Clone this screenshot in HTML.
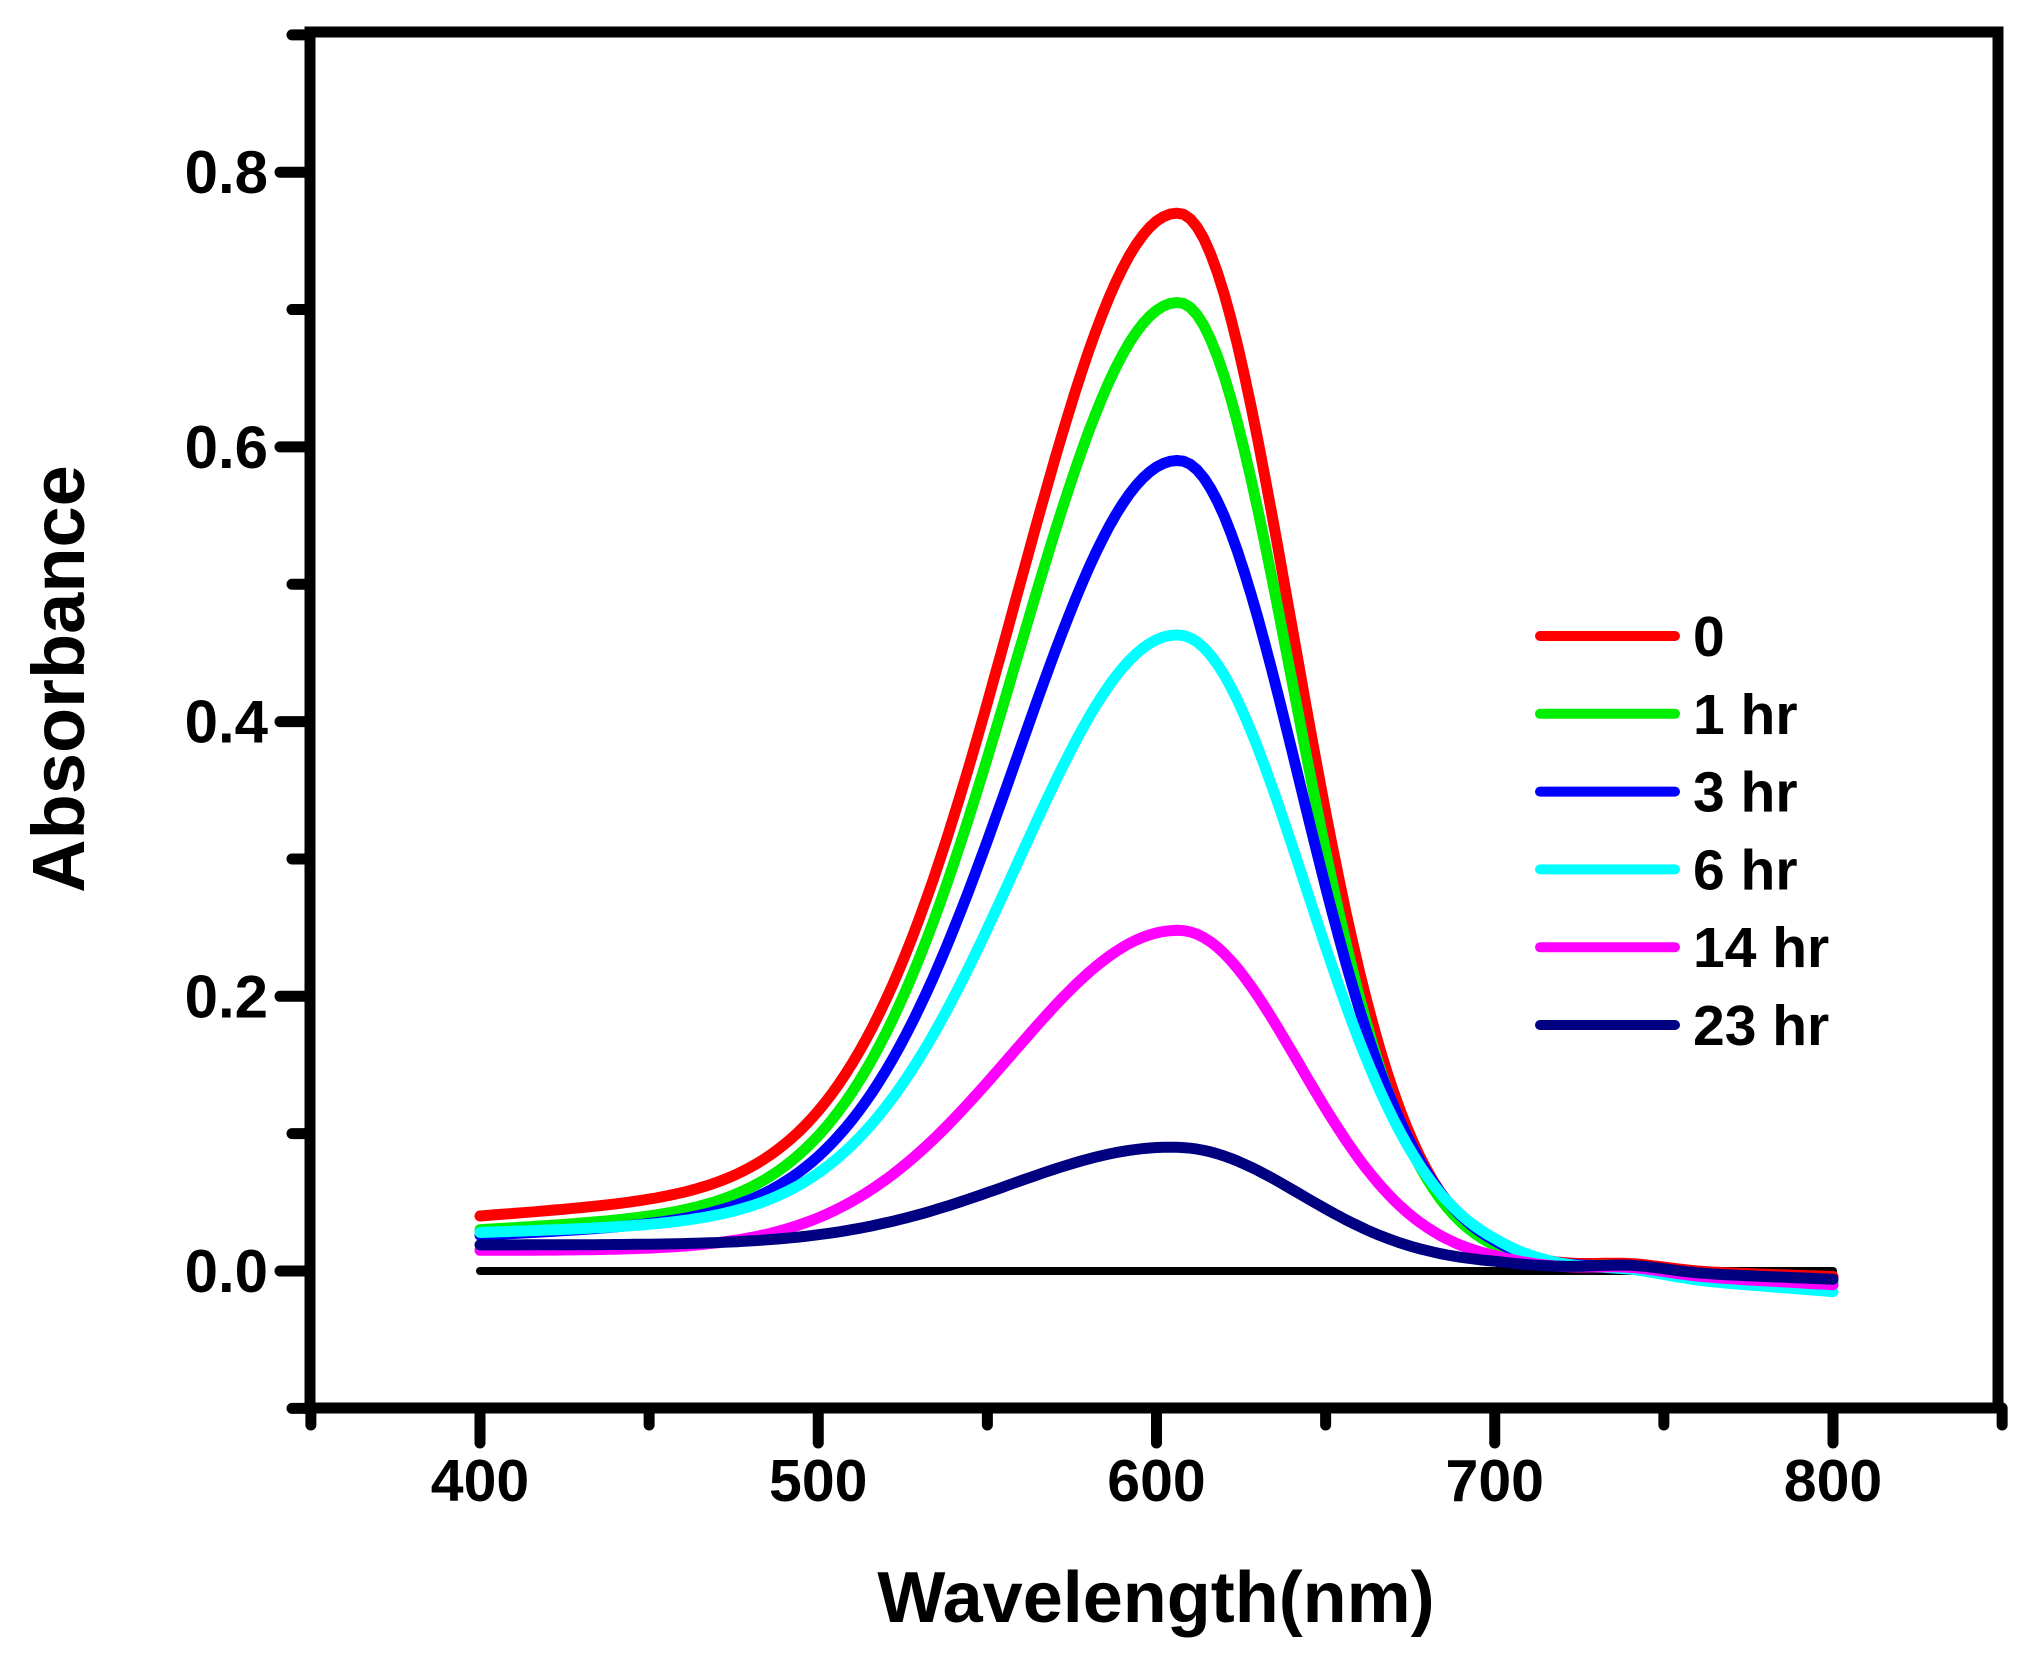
<!DOCTYPE html>
<html><head><meta charset="utf-8"><style>
html,body{margin:0;padding:0;background:#fff;}
svg{display:block;}
text{font-family:"Liberation Sans",Arial,sans-serif;font-weight:bold;fill:#000;}
</style></head><body>
<svg id="s" width="2034" height="1654" viewBox="0 0 2034 1654" xmlns="http://www.w3.org/2000/svg">
<g id="curves" fill="none" stroke-linejoin="round" stroke-linecap="round"></g>
<g stroke="#000" stroke-width="11" stroke-linecap="round" fill="none">
<path d="M310 32 H1998 V1408 H310 Z"/>
<g id="ticks"></g>
</g>
<g font-size="60" text-anchor="end" id="ylab"></g>
<g font-size="59" text-anchor="middle" id="xlab"></g>
<text x="1156" y="1622" font-size="72" text-anchor="middle">Wavelength(nm)</text>
<text transform="translate(84,679) rotate(-90)" font-size="74" text-anchor="middle">Absorbance</text>
<g id="legend" font-size="57"></g>
</svg>
<script>
const NS="http://www.w3.org/2000/svg";
const X=w=>480+(w-400)*3.3825, Y=a=>1271-a*1373.5;
function el(p,tag,at,txt){const e=document.createElementNS(NS,tag);for(const k in at)e.setAttribute(k,at[k]);if(txt!==undefined)e.textContent=txt;p.appendChild(e);return e;}
const tk=document.getElementById('ticks');
let d="";
for(let v=-0.1;v<=0.901;v+=0.1){const y=Y(v);const maj=Math.abs(Math.round(v*10)%2)==0;d+=`M310 ${y} H${maj?280:292}`;}
for(let w=350;w<=850;w+=50){const x=X(w);const maj=w%100==0;d+=`M${x} 1408 V${maj?1443:1425}`;}
el(tk,'path',{d});
const yl=document.getElementById('ylab');
[0,0.2,0.4,0.6,0.8].forEach(v=>el(yl,'text',{x:268,y:Y(v)+21},v.toFixed(1)));
const xl=document.getElementById('xlab');
[400,500,600,700,800].forEach(w=>el(xl,'text',{x:X(w),y:1501},w));
const series=[
 ['#ff0000',0.77,0.040,0.018,-0.004,48,33],
 ['#00ee00',0.705,0.030,0.014,-0.008,48,33],
 ['#0000ff',0.59,0.026,0.012,-0.010,48,35],
 ['#00ffff',0.463,0.028,0.008,-0.015,48,37],
 ['#ff00ff',0.248,0.015,0.000,-0.010,50,35],
 ['#000080',0.09,0.019,0.000,-0.006,50,36]];
const cg=document.getElementById('curves');
el(cg,'path',{d:`M${X(400)} ${Y(0)} H${X(800)}`,stroke:'#000','stroke-width':8});
series.forEach(([c,A,b0,k,b1,sl,sr])=>{
 const c0=607;
 const base=w=>{const S=1/(1+Math.exp((w-640)/18));
   let b=(b0+k*(w-400)/100)*S + (0.004+(b1-0.004)*Math.max(0,(w-700)/100))*(1-S);
   return b+0.004*Math.exp(-Math.pow((w-740)/15,2));};
 const amp=A-base(c0);
 let p="";
 for(let w=400;w<=800;w+=2){
  const z=(w-c0)/(w<c0?sl:sr);
  const a=amp*Math.exp(-0.5*z*z)+base(w);
  p+=(p?"L":"M")+X(w).toFixed(1)+" "+Y(a).toFixed(1);
 }
 el(cg,'path',{d:p,stroke:c,'stroke-width':11});
});
const lg=document.getElementById('legend');
const labs=['0','1 hr','3 hr','6 hr','14 hr','23 hr'];
series.forEach(([c],i)=>{const y=636+i*77.8;
 el(lg,'path',{d:`M1540 ${y} H1675`,stroke:c,'stroke-width':10,'stroke-linecap':'round'});
 el(lg,'text',{x:1693,y:y+20},labs[i]);});
</script>
</body></html>
